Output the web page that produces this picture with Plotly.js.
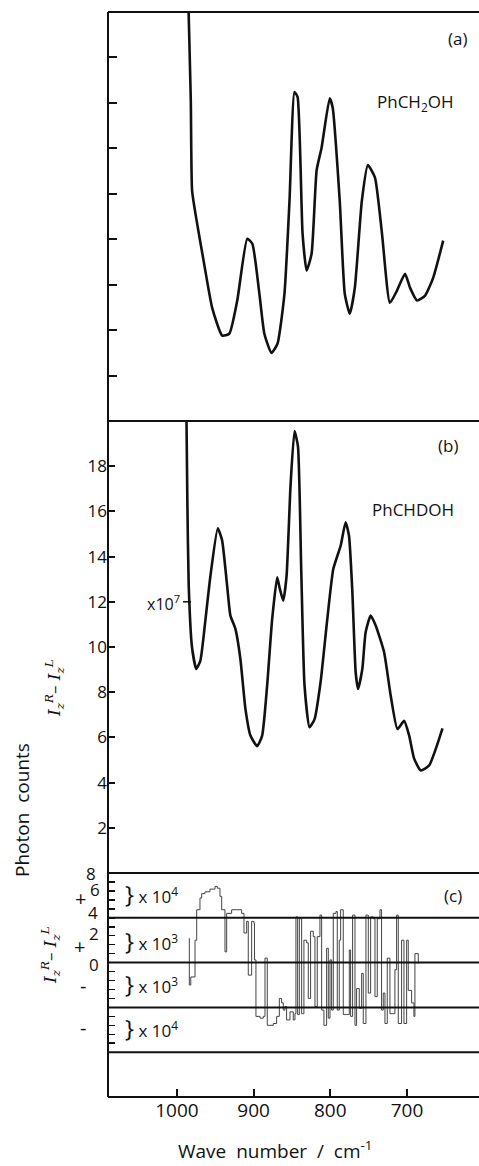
<!DOCTYPE html>
<html>
<head>
<meta charset="utf-8">
<script src="https://cdn.plot.ly/plotly-3.0.1.min.js"></script>
<style>
html,body{margin:0;padding:0;background:#fff;overflow:hidden;}
#chart{width:479px;height:1166px;}
</style>
</head>
<body>
<div id="chart"></div>
<script>
// ---------- DATA ----------
// Panel (a): PhCH2OH
const wnA  = [988, 985.6, 982, 980.3, 975.1, 964.6, 954.1, 941.0, 931.8, 921.4, 908.3, 901.7, 892.5, 886.0, 876.8, 868.9, 859.8, 853.2, 846.7, 842.7, 836.2, 830.9, 824.4, 817.8, 811.3, 800.8, 796.9, 787.7, 781.1, 774.6, 768.0, 758.8, 751.0, 741.8, 732.6, 722.2, 713.0, 702.5, 695.9, 686.8, 676.3, 665.8, 652.7];
const valA = [11, 9.5, 7.06, 5.07, 4.48, 3.46, 2.49, 1.88, 1.92, 2.65, 4.01, 3.90, 2.80, 1.92, 1.50, 1.70, 2.80, 4.85, 7.24, 7.13, 4.13, 3.31, 3.68, 5.52, 6.02, 7.10, 6.90, 4.85, 2.80, 2.36, 2.93, 4.85, 5.63, 5.36, 4.13, 2.60, 2.87, 3.24, 2.93, 2.65, 2.76, 3.15, 3.97];

// Panel (b): PhCHDOH
const wnB  = [988.2, 986.5, 984.7, 980.4, 974.8, 969.5, 963.0, 956.5, 946.8, 941.2, 934.6, 930.3, 923.8, 917.3, 910.7, 904.2, 895.4, 888.9, 882.4, 875.8, 869.3, 865.8, 861.4, 857.1, 851.9, 846.7, 842.2, 837.9, 833.6, 827.1, 820.5, 812.7, 803.9, 796.1, 786.5, 780.0, 775.6, 771.2, 766.9, 763.8, 758.2, 753.9, 747.3, 740.8, 729.8, 721.2, 712.4, 703.7, 697.1, 690.6, 681.9, 671.0, 662.4, 653.6];
const valB = [22, 16.5, 12.71, 9.99, 9.03, 9.40, 11.17, 13.11, 15.25, 14.73, 12.71, 11.39, 10.80, 9.47, 7.26, 6.08, 5.61, 6.08, 8.29, 11.24, 13.08, 12.57, 12.05, 13.11, 17.12, 19.55, 18.88, 13.41, 8.29, 6.45, 6.81, 8.44, 11.24, 13.45, 14.48, 15.52, 14.92, 12.42, 8.88, 8.14, 9.03, 10.65, 11.39, 10.95, 9.77, 7.85, 6.37, 6.73, 6.08, 5.06, 4.54, 4.76, 5.49, 6.40];

// Panel (c): I_z^R - I_z^L (stepped record, plotted in band units)
const wnC  = [984.5, 983.9, 982, 976.5, 974.3, 970.0, 967.8, 963.5, 957.0, 950.4, 947.4, 943.9, 941.7, 937.4, 935.2, 928.7, 922.2, 915.7, 912.6, 909.1, 907.0, 902.6, 899.6, 898.9, 897.0, 891.7, 887.4, 885.2, 882.2, 878.7, 874.4, 870.0, 866.5, 863.5, 861.3, 859.1, 857.0, 852.6, 848.3, 846.1, 844.8, 842.6, 840.4, 837.4, 834.4, 830.9, 828.7, 825.7, 822.2, 820.0, 817.0, 813.5, 811.3, 808.3, 804.8, 802.6, 800.4, 798.3, 796.1, 792.6, 790.9, 788.3, 786.5, 783.1, 778.7, 775.2, 773.5, 770.9, 767.8, 765.7, 762.2, 759.1, 757.0, 753.5, 750.4, 747.4, 743.9, 741.7, 738.7, 735.2, 733.1, 730.9, 728.7, 725.7, 722.2, 717.8, 715.7, 713.5, 711.3, 707.0, 703.9, 700.4, 698.3, 693.9, 690.9, 689.6, 685.2];
const valC = [17.7, 12.5, 13.4, 17.5, 20.9, 22.2, 22.7, 22.9, 23.2, 23.5, 23.3, 22.4, 20.9, 16.2, 20.5, 20.9, 20.9, 20.5, 18.3, 19.6, 13.6, 19.6, 19.4, 15.3, 9.0, 8.8, 9.0, 15.5, 8.0, 8.0, 8.2, 9.0, 11.0, 10.5, 9.7, 10.1, 8.6, 9.5, 8.6, 9.3, 20.1, 9.2, 19.9, 9.3, 17.5, 17.2, 11.0, 18.5, 17.9, 10.1, 17.9, 20.3, 9.7, 8.0, 16.6, 8.8, 15.3, 9.7, 20.5, 20.7, 9.7, 17.5, 20.9, 9.2, 9.2, 16.4, 9.0, 20.3, 8.0, 12.1, 9.9, 13.8, 8.2, 20.3, 11.6, 20.1, 19.9, 11.2, 19.9, 20.9, 9.7, 11.6, 8.2, 15.5, 9.3, 9.3, 14.2, 20.3, 8.2, 17.5, 8.2, 17.5, 11.9, 10.5, 9.0, 16.0, 14.9];
const bandLines = [5, 10, 15, 20];

// Tick labels
const xTickVals = [1000, 900, 800, 700];
const xTickText = ['1000', '900', '800', '700'];
const aTickVals = [1, 2, 3, 4, 5, 6, 7, 8];
const bTickVals = [2, 4, 6, 8, 10, 12, 14, 16, 18];
const bTickText = ['2', '4', '6', '8', '10', '12', '14', '16', '18'];
const bBottomLabel = '8';
const cTickVals = [6, 7, 8, 9, 10, 11, 12, 13, 14, 15, 16, 17, 18, 19, 20, 21, 22, 23, 24];
const cSideLabels = ['6', '+', '4', '2', '+', '0', '-', '-'];
const bandFactors = ['10<sup>4</sup>', '10<sup>3</sup>', '10<sup>3</sup>', '10<sup>4</sup>'];

// ---------- LAYOUT HELPERS (pixel -> paper) ----------
const W = 479, H = 1166, ML = 108, MR = 0, MT = 12, MB = 69;
const PW = W - ML - MR, PH = H - MT - MB;
const px = x => (x - ML) / PW;
const py = y => (H - MB - y) / PH;

const FONT = 'Open Sans, DejaVu Sans, sans-serif';
const SERIF = 'DejaVu Serif, Liberation Serif, serif';
const INK = '#111';

const domC = [0, py(873)];
const domB = [py(873), py(421)];
const domA = [py(421), 1];
const xRange = [1090, 606];

const traces = [
  {x: wnA, y: valA, xaxis: 'x', yaxis: 'y', type: 'scatter', mode: 'lines',
   line: {color: INK, width: 2.6, shape: 'spline', smoothing: 0.5}, hoverinfo: 'skip'},
  {x: wnB, y: valB, xaxis: 'x', yaxis: 'y2', type: 'scatter', mode: 'lines',
   line: {color: INK, width: 2.6, shape: 'spline', smoothing: 0.5}, hoverinfo: 'skip'},
  {x: wnC, y: valC, xaxis: 'x', yaxis: 'y3', type: 'scatter', mode: 'lines',
   line: {color: '#444', width: 1, shape: 'hv'}, hoverinfo: 'skip'}
];

const tickFont = {family: FONT, size: 17, color: INK};
const commonX = {range: xRange, tickvals: xTickVals, tickwidth: 2, tickcolor: INK, ticks: 'inside',
                 showline: false, showgrid: false, zeroline: false};
const layout = {
  width: W, height: H,
  margin: {l: ML, r: MR, t: MT, b: MB, pad: 0},
  paper_bgcolor: '#fff', plot_bgcolor: 'rgba(0,0,0,0)',
  showlegend: false,
  font: {family: FONT, color: INK},
  xaxis: Object.assign({}, commonX, {domain: [0, 1], anchor: 'y3', ticktext: xTickText, ticklen: 8,
          tickfont: {family: FONT, size: 19, color: INK}}),
  xaxis2: Object.assign({}, commonX, {matches: 'x', anchor: 'y2', showticklabels: false, ticklen: 8}),
  xaxis3: Object.assign({}, commonX, {matches: 'x', anchor: 'y', showticklabels: false, ticklen: 11}),
  yaxis: {domain: domA, anchor: 'x3', range: [0, 9], tickvals: aTickVals, showticklabels: false,
          ticks: 'inside', ticklen: 9, tickwidth: 2, tickcolor: INK,
          showline: false, showgrid: false, zeroline: false},
  yaxis2: {domain: domB, anchor: 'x2', range: [0, 20], tickvals: bTickVals, ticktext: bTickText,
           ticks: 'inside', ticklen: 7, tickwidth: 2, tickcolor: INK,
           showline: false, showgrid: false, zeroline: false, tickfont: tickFont},
  yaxis3: {domain: domC, anchor: 'x', range: [0, 25], tickvals: cTickVals, showticklabels: false,
           ticks: 'inside', ticklen: 7, tickwidth: 1.5, tickcolor: INK,
           showline: false, showgrid: false, zeroline: false},
  shapes: [],
  annotations: []
};

// frame: left edge and panel borders
layout.shapes.push({type: 'line', xref: 'paper', yref: 'paper', x0: 0, x1: 0, y0: 0, y1: 1,
  line: {color: INK, width: 2}});
[0, py(873), py(421), 1].forEach(v => layout.shapes.push({type: 'line', xref: 'paper', yref: 'paper',
  x0: 0, x1: 1, y0: v, y1: v, line: {color: INK, width: 2}}));
bandLines.forEach(v => layout.shapes.push({type: 'line', xref: 'paper', x0: 0, x1: 1, yref: 'y3', y0: v, y1: v,
  line: {color: INK, width: 2}}));
// small mark after x10^7
layout.shapes.push({type: 'line', xref: 'paper', x0: px(183), x1: px(191), yref: 'y2', y0: 12, y1: 12,
  line: {color: INK, width: 1.5}});
// tick at zero of panel (b)
layout.shapes.push({type: 'line', xref: 'paper', x0: 0, x1: px(115), yref: 'y2', y0: 0, y1: 0,
  line: {color: INK, width: 2}});

function ann(text, x, y, opts) {
  layout.annotations.push(Object.assign({text: text, xref: 'paper', yref: 'paper', x: px(x), y: py(y),
    showarrow: false, xanchor: 'center', yanchor: 'middle',
    font: {family: FONT, size: 17, color: INK}}, opts || {}));
}

ann(bBottomLabel, 98, 874, {xanchor: 'right'});
ann('(a)', 457, 38);
ann('PhCH<sub>2</sub>OH', 415, 103);
ann('(b)', 448, 445);
ann('PhCHDOH', 413, 510);
ann('(c)', 453, 895);
ann('x10<sup>7</sup>', 163, 603, {font: {family: FONT, size: 16, color: INK}});
ann('Photon  counts', 22, 810, {textangle: -90, font: {family: FONT, size: 19, color: INK}});
const IRL = '<i>I</i><sub><i>z</i></sub><sup><i>R</i></sup>– <i>I</i><sub><i>z</i></sub><sup><i>L</i></sup>';
ann(IRL, 54, 688, {textangle: -90, font: {family: SERIF, size: 17, color: INK}});
ann(IRL, 50, 955, {textangle: -90, font: {family: SERIF, size: 17, color: INK}});

// side labels of panel (c)
const sidePos = [[95, 889], [80, 898], [93, 912], [94, 933], [79, 946], [94, 964], [83, 985], [83, 1027]];
cSideLabels.forEach((t, i) => ann(t, sidePos[i][0], sidePos[i][1],
  {font: {family: FONT, size: (t === '+' || t === '-') ? 20 : 17, color: INK}}));

// band factor labels
const bandY = [893, 940, 984, 1027];
bandFactors.forEach((t, i) => ann('<span style="font-size:24px">}</span> x ' + t, 123, bandY[i],
  {xanchor: 'left', font: {family: FONT, size: 17, color: INK}}));

ann('Wave  number  /  cm<sup>-1</sup>', 275, 1150, {font: {family: FONT, size: 19, color: INK}});

Plotly.newPlot('chart', traces, layout, {staticPlot: true, displayModeBar: false});
</script>
</body>
</html>
